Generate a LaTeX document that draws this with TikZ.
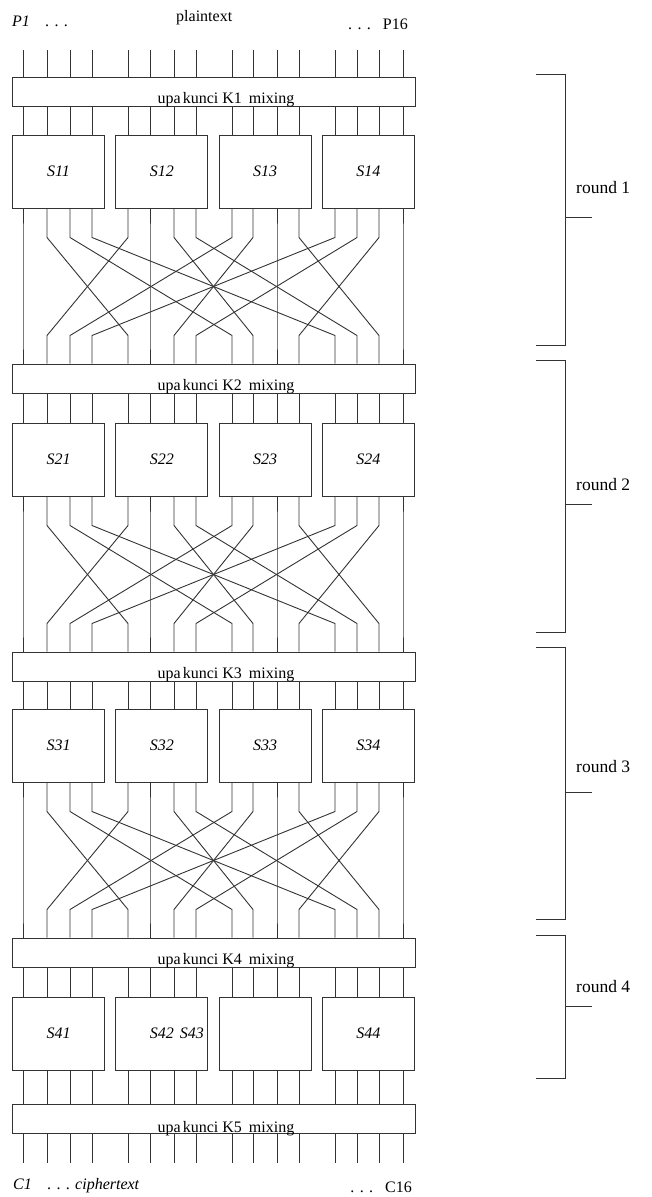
\documentclass[tikz,border=0pt]{standalone}
\usepackage{fontspec}
\setmainfont{Liberation Serif}
\usetikzlibrary{calc}

\begin{document}
\begin{tikzpicture}[x=1pt, y=-1pt,
    txt/.style={inner sep=0pt, font=\fontsize{16}{19}\selectfont},
    wire/.style={draw=black!80, line width=0.9pt},
    mixbox/.style={draw=black!80, line width=1pt, minimum width=403pt,
        minimum height=29pt, inner sep=0pt},
    sbox/.style={draw=black!80, line width=1pt, minimum width=92pt,
        minimum height=73pt, inner sep=0pt, font=\fontsize{16}{19}\selectfont\itshape},
    bracket/.style={draw=black!80, line width=1pt}]
    \useasboundingbox (0,0) rectangle (651,1197);

    \node[txt, anchor=base west] (p1) at (12,26) {\textit{P1}};
    \node[txt, anchor=base west] (pdots) at (45,26) {. . .};
    \node[txt, anchor=base west] (plain) at (176,21) {plaintext};
    \node[txt, anchor=base east] (p16) at (408,29) {. . .\hspace{12pt}P16};

    \foreach \r/\ky/\ys in {1/91.5/3.5, 2/378.5/3.5, 3/666.5/3.5, 4/952.5/3.5, 5/1118.5/1.5}
        \node[mixbox, label={[txt, anchor=base, xshift=12.5pt, yshift=\ys pt]south:upa\hspace{2pt}kunci K\r\hspace{7pt}mixing}] (k\r) at (213.5,\ky) {};

    \foreach \r/\sy in {1/171.5, 2/459.5, 3/745.5}
        \foreach \i in {1,...,4}
            \node[sbox] (s\r\i) at ({58.5+103.3*(\i-1)},\sy) {S\r\i};
    \node[sbox] (s41) at (58.5,1033.5) {S41};
    \node[sbox, text width=84pt, align=right] (s42) at (161.8,1033.5) {S42\hspace{6pt}S43};
    \node[sbox] (s43) at (265.1,1033.5) {};
    \node[sbox] (s44) at (368.4,1033.5) {S44};

    \foreach \wx [count=\k from 0] in {23,47,70,92,128,150,174,196,232,253,277,299,335,357,379,403} {
        \coordinate (w\k) at (\wx,50);
        \coordinate (c\k) at (\wx,1163);
    }

    \foreach \k in {0,...,15} {
        \pgfmathtruncatemacro{\sb}{int(\k/4)+1}
        \pgfmathtruncatemacro{\dst}{4*mod(\k,4)+int(\k/4)}
        \draw[wire] (w\k) -- (w\k |- k1.north);
        \foreach \r in {1,...,4}
            \draw[wire] (w\k |- k\r.south) -- (w\k |- s\r\sb.north);
        \foreach \r [evaluate=\r as \n using int(\r+1)] in {1,2,3}
            \draw[wire] (w\k |- s\r\sb.south) -- ++(0,29)
                -- ($(w\dst |- k\n.north)+(0,-28)$) -- (w\dst |- k\n.north);
        \draw[wire] (w\k |- s4\sb.south) -- (w\k |- k5.north);
        \draw[wire] (w\k |- k5.south) -- (c\k);
    }

    \foreach \r/\top/\bot/\tick/\ly in {1/74/345/217/193, 2/360/632/504/490, 3/647/919/792/772, 4/935/1078/1006/992} {
        \draw[bracket] (536,\top) -- (565,\top) -- (565,\bot) -- (536,\bot);
        \draw[bracket] (565,\tick) -- (592,\tick);
        \node[txt, anchor=base west, font=\fontsize{17.5}{20}\selectfont] (round\r) at (576,\ly) {round \r};
    }

    \node[txt, anchor=base west] (c1) at (13,1189) {\textit{C1}};
    \node[txt, anchor=base west] (cdots) at (47,1189) {. . . \textit{ciphertext}};
    \node[txt, anchor=base east] (c16) at (412,1192) {. . .\hspace{12pt}C16};
\end{tikzpicture}
\end{document}
